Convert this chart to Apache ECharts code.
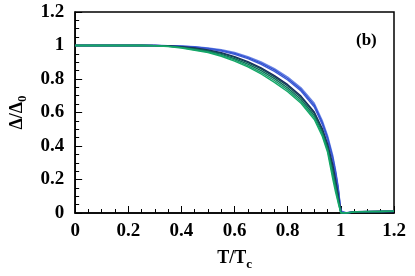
<!DOCTYPE html>
<html><head><meta charset="utf-8">
<script src="https://cdn.jsdelivr.net/npm/echarts@6/dist/echarts.min.js"></script>
<style>html,body{margin:0;padding:0;background:#fff}#c{width:415px;height:276px}</style>
</head><body><div id="c"></div>
<script>
const tGrid = [0, 0.1, 0.2, 0.25, 0.3, 0.35, 0.4, 0.45, 0.5, 0.55, 0.6, 0.65, 0.7, 0.75, 0.8, 0.85, 0.9, 0.93, 0.95, 0.97, 0.98, 0.99, 1.0, 1.02, 1.04, 1.06, 1.1, 1.15, 1.2];
const gap1 = [1,1,1,1,1,0.999,0.997,0.993,0.986,0.975,0.958,0.934,0.902,0.862,0.812,0.748,0.655,0.552,0.462,0.340,0.258,0.158,0.012,0.002,0.006,0.008,0.009,0.010,0.011];
const gap2 = [1,1,1,1,1,0.999,0.996,0.991,0.983,0.971,0.953,0.928,0.895,0.854,0.803,0.738,0.644,0.540,0.450,0.327,0.246,0.148,0.008,0.001,0.005,0.008,0.008,0.009,0.010];
const gap3 = [1,1,1,1,1,0.998,0.995,0.989,0.980,0.967,0.948,0.922,0.888,0.846,0.794,0.728,0.633,0.529,0.438,0.314,0.235,0.138,0.005,0,0.004,0.007,0.008,0.008,0.009];
const gap4 = [1,1,1,1,1,0.998,0.993,0.985,0.973,0.957,0.934,0.904,0.866,0.820,0.766,0.698,0.603,0.504,0.412,0.285,0.200,0.110,0.003,0,0.003,0.007,0.008,0.009,0.009];
const gap5 = [1,1,1,1,0.9995,0.997,0.991,0.982,0.970,0.953,0.929,0.898,0.860,0.813,0.758,0.690,0.595,0.495,0.400,0.265,0.180,0.095,0.002,0,0.004,0.008,0.009,0.009,0.010];
const gap6 = [1,1,1,1,0.9993,0.996,0.989,0.978,0.966,0.947,0.921,0.889,0.850,0.802,0.746,0.678,0.582,0.482,0.388,0.245,0.165,0.083,0.001,0,0.005,0.008,0.008,0.010,0.010];
const gap7 = [1,1,1,1,0.999,0.995,0.987,0.975,0.962,0.941,0.914,0.880,0.840,0.791,0.735,0.666,0.570,0.470,0.375,0.220,0.145,0.070,0,0,0.004,0.007,0.009,0.009,0.010];
const gap8 = [1,1,1,1,0.9985,0.994,0.985,0.971,0.958,0.936,0.907,0.872,0.830,0.780,0.724,0.655,0.558,0.458,0.362,0.200,0.125,0.060,0,0,0.004,0.008,0.008,0.009,0.011];
const curves = [gap1, gap2, gap3, gap4, gap5, gap6, gap7, gap8];
const colors = ['#6a84e4', '#2f4fcf', '#3d5cd6', '#1a2660', '#134a55', '#0e6e5a', '#1b9a6a', '#14a868'];
const xTicks = ['0', '0.2', '0.4', '0.6', '0.8', '1', '1.2'];
const yTicks = ['0', '0.2', '0.4', '0.6', '0.8', '1', '1.2'];

const font = 'Liberation Serif';
function axisCommon() {
  return {
    min: 0, max: 1.2, interval: 0.2,
    axisLine: {show: true, lineStyle: {color: '#000', width: 1.5}},
    axisTick: {show: true, inside: true, length: 7, lineStyle: {color: '#000', width: 1}},
    minorTick: {show: true, splitNumber: 4, length: 4, lineStyle: {color: '#000', width: 1}},
    splitLine: {show: false}
  };
}
const chart = echarts.init(document.getElementById('c'));
chart.setOption({
  animation: false,
  backgroundColor: '#fff',
  grid: {left: 69, right: 21, top: 12, bottom: 63, show: true, borderColor: '#000', borderWidth: 1.5, backgroundColor: 'transparent'},
  title: {text: '(b)', left: 351, top: 27, textStyle: {fontFamily: font, fontWeight: 'bold', fontSize: 17, color: '#000'}},
  xAxis: Object.assign(axisCommon(), {type: 'value', position: 'bottom',
      name: '{m|T/T}{s|c}', nameLocation: 'middle', nameGap: 33,
      nameTextStyle: {rich: {
        m: {fontFamily: font, fontWeight: 'bold', fontSize: 18, color: '#000'},
        s: {fontFamily: font, fontWeight: 'bold', fontSize: 13, color: '#000', padding: [12, 0, 0, 0]}}},
      axisLabel: {margin: 9, fontFamily: font, fontWeight: 'bold', fontSize: 19, color: '#000',
        formatter: (v) => xTicks[Math.round(v / 0.2)]}}),
  yAxis: Object.assign(axisCommon(), {type: 'value', position: 'left',
      name: '{m|Δ/Δ}{s|0}', nameLocation: 'middle', nameGap: 45, nameRotate: 90,
      nameTextStyle: {rich: {
        m: {fontFamily: font, fontWeight: 'bold', fontSize: 18, color: '#000'},
        s: {fontFamily: font, fontWeight: 'bold', fontSize: 13, color: '#000', padding: [12, 0, 0, 0]}}},
      axisLabel: {margin: 11, fontFamily: font, fontWeight: 'bold', fontSize: 19, color: '#000',
        formatter: (v) => yTicks[Math.round(v / 0.2)]}}),
  series: curves.map((arr, i) => ({
    type: 'line', showSymbol: false, symbol: 'none',
    lineStyle: {color: colors[i], width: 1.4},
    data: tGrid.map((t, k) => [t, arr[k]])
  }))
});
</script></body></html>
